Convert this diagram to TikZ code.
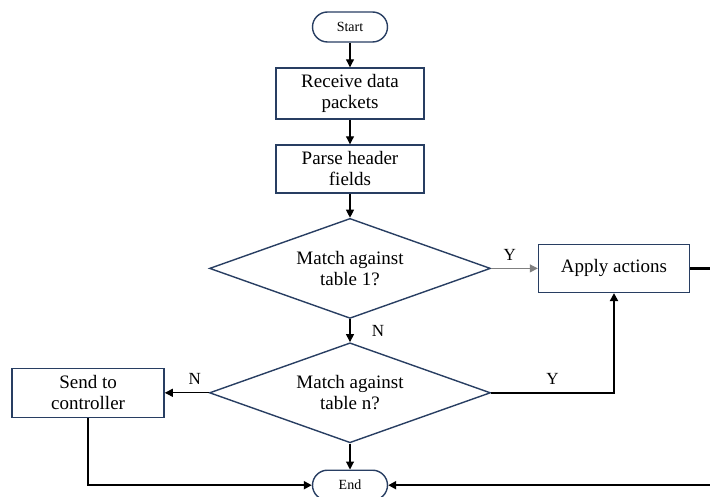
\documentclass[tikz,border=0pt]{standalone}
\usepackage{fontspec}
\setmainfont{Liberation Serif}
\usetikzlibrary{positioning,shapes.geometric,arrows.meta}
\definecolor{boxline}{RGB}{40,62,98}
\definecolor{greyline}{RGB}{128,128,128}

\begin{document}
\begin{tikzpicture}[x=1pt, y=1pt, >={Triangle[length=8pt,width=8pt]},
    every node/.style={font=\fontsize{19}{21}\selectfont},
    process/.style={rectangle, draw=boxline, line width=1.4pt, align=center, inner sep=0pt},
    terminal/.style={rectangle, rounded corners=15pt, draw=boxline, line width=1.4pt,
        minimum width=75pt, minimum height=30pt, font=\fontsize{14}{16}\selectfont},
    decision/.style={diamond, aspect=2.81, draw=boxline, line width=1.4pt, align=center, inner sep=0pt,
        minimum width=281pt, minimum height=100pt},
    answer/.style={font=\fontsize{17}{19}\selectfont},
    thin arrow/.style={->, line width=1.1pt},
    thick arrow/.style={->, line width=2.3pt}]
    \useasboundingbox (0,0) rectangle (710,496);

    \node[terminal] (start) at (350,469) {Start};
    \node[process, minimum width=148pt, minimum height=51pt, below=24.6pt of start] (receive) {Receive data\\packets};
    \node[process, minimum width=148pt, minimum height=48pt, below=24.6pt of receive] (parse) {Parse header\\fields};
    \node[decision, below=24pt of parse] (match1) {Match against\\table 1?};
    \node[decision, below=23pt of match1] (matchn) {Match against\\table n?};
    \node[process, minimum width=151pt, minimum height=48pt, right=46.6pt of match1] (apply) {Apply actions};
    \node[process, minimum width=152pt, minimum height=49pt, left=44pt of matchn] (send) {Send to\\controller};
    \node[terminal, below=26pt of matchn] (end) {End};

    \draw[thin arrow] (start) -- (receive);
    \draw[thin arrow] (receive) -- (parse);
    \draw[thin arrow] (parse) -- (match1);
    \draw[thin arrow] (match1) -- (matchn) node[midway, right, xshift=18pt, answer] {N};
    \draw[thin arrow, greyline] (match1) -- (apply) node[pos=0.4, above=4pt, answer, black] {Y};
    \draw[thick arrow] (matchn.east) -| (apply.south) node[pos=0.25, above=4pt, answer] {Y};
    \draw[thin arrow] (matchn) -- (send) node[pos=0.32, above=4pt, answer] {N};
    \draw[thin arrow] (matchn) -- (end);
    \draw[thick arrow] (send.south) |- (end.west);
    \draw[thick arrow] (apply.east) -- ++(40pt,0) |- (end.east);
\end{tikzpicture}
\end{document}
